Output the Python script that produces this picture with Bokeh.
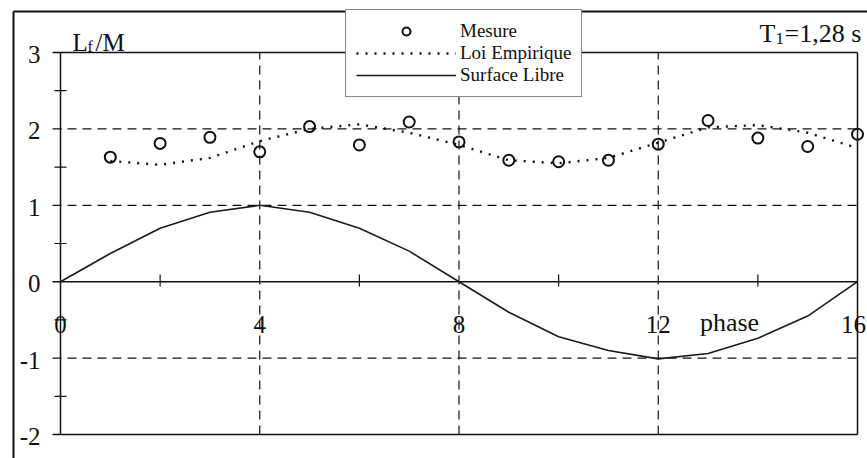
import numpy as np
from bokeh.plotting import figure
from bokeh.models import Range1d, Legend, LegendItem, Grid
from bokeh.core.properties import value
from bokeh.embed import file_html
from bokeh.resources import INLINE

# ---------------- data ----------------
phase = [0, 1, 2, 3, 4, 5, 6, 7, 8, 9, 10, 11, 12, 13, 14, 15, 16]
surface_libre = [0.0, 0.37, 0.70, 0.91, 1.0, 0.91, 0.70, 0.40, 0.0,
                 -0.40, -0.72, -0.90, -1.01, -0.94, -0.74, -0.45, 0.0]

mesure_phase = [1, 2, 3, 4, 5, 6, 7, 8, 9, 10, 11, 12, 13, 14, 15, 16]
mesure = [1.63, 1.81, 1.89, 1.70, 2.03, 1.79, 2.09, 1.83,
          1.59, 1.57, 1.59, 1.80, 2.11, 1.88, 1.77, 1.93]

loi_phase = [1, 2, 3, 4, 5, 6, 7, 8, 9, 10, 11, 12, 13, 14, 15, 16]
loi_empirique = [1.58, 1.53, 1.62, 1.84, 2.00, 2.06, 1.95, 1.79,
                 1.59, 1.55, 1.62, 1.82, 2.02, 2.05, 1.95, 1.75]

x_major = [0, 4, 8, 12, 16]
x_labels = ["0", "4", "8", "12", "16"]
x_minor = [2, 6, 10, 14]
y_major = [3, 2, 1, 0, -1, -2]
y_labels = ["3", "2", "1", "0", "-1", "-2"]
y_minor = [2.5, 1.5, 0.5, -0.5, -1.5]
y_solid = [3, 0, -2]
y_dashed = [2, 1, -1]
x_dashed = [4, 8, 12]
x_solid = [0, 16]

# ---------------- layout geometry (picture pixels) ----------------
W, H = 867, 458
PX0, PX16 = 60.0, 857.0      # pixel x of phase 0 and 16
PY3, PYm2 = 52.0, 434.0      # pixel y of 3 and -2
sx = (PX16 - PX0) / 16.0
sy = (PYm2 - PY3) / 5.0


def X(px):
    return (px - PX0) / sx


def Y(py):
    return 3.0 - (py - PY3) / sy


FL, FT = 2, 0                # frame left / top
x_lo, x_hi = X(FL), X(W)
y_hi, y_lo = Y(FT), Y(H)

FONT_NAME = "Liberation Serif"
FONT = value(FONT_NAME)
INK = "#111111"

p = figure(width=W, height=H, output_backend="svg", toolbar_location=None,
           x_range=Range1d(x_lo, x_hi), y_range=Range1d(y_lo, y_hi),
           x_axis_location=None, y_axis_location=None,
           min_border_left=FL, min_border_top=FT,
           min_border_right=0, min_border_bottom=0)
p.outline_line_color = None
p.background_fill_color = "white"
p.border_fill_color = "white"
for r in list(p.center):
    if isinstance(r, Grid):
        r.visible = False

# outer frame (left and top edges)
p.segment(x0=[X(13)], y0=[Y(11)], x1=[X(13)], y1=[y_lo], line_color=INK, line_width=2)
p.segment(x0=[X(13)], y0=[Y(11)], x1=[x_hi], y1=[Y(11)], line_color=INK, line_width=2)

# dashed grid
p.segment(x0=[X(52)] * len(y_dashed), y0=y_dashed, x1=[16] * len(y_dashed), y1=y_dashed,
          line_color=INK, line_width=1.2, line_dash="9 6")
p.segment(x0=x_dashed, y0=[-2] * len(x_dashed), x1=x_dashed, y1=[3] * len(x_dashed),
          line_color=INK, line_width=1.2, line_dash="9 6")

# solid box lines and zero line
p.segment(x0=[X(52)] * len(y_solid), y0=y_solid, x1=[16] * len(y_solid), y1=y_solid,
          line_color=INK, line_width=1.5)
p.segment(x0=x_solid, y0=[-2] * len(x_solid), x1=x_solid, y1=[3] * len(x_solid),
          line_color=INK, line_width=1.5)

# minor ticks
p.segment(x0=[X(54)] * len(y_minor), y0=y_minor, x1=[X(66)] * len(y_minor), y1=y_minor,
          line_color=INK, line_width=1.2)
p.segment(x0=x_minor, y0=[Y(274)] * len(x_minor), x1=x_minor, y1=[Y(286)] * len(x_minor),
          line_color=INK, line_width=1.2)

# series
r_surf = p.line(phase, surface_libre, line_color="#1a1a1a", line_width=1.6)
r_loi = p.line(loi_phase, loi_empirique, line_color=INK, line_width=2.4,
               line_dash="2 7")
r_mes = p.scatter(mesure_phase, mesure, marker="circle", size=11,
                  fill_color=None, line_color=INK, line_width=2)

# tick labels
p.text(x=[X(40)] * len(y_major), y=y_major, text=y_labels, text_font=FONT,
       text_font_size="25px", text_align="right", text_baseline="middle",
       text_color=INK, y_offset=2)
p.text(x=x_major, y=[Y(324)] * len(x_major), text=x_labels, text_font=FONT,
       text_font_size="25px", text_align="center", text_baseline="middle",
       text_color=INK, x_offset=[0, 0, 0, 0, -4])
p.text(x=[X(729)], y=[Y(322)], text=["phase"], text_font=FONT,
       text_font_size="26px", text_align="center", text_baseline="middle",
       text_color=INK)

# axis title  L_f / M
p.text(x=[X(72)], y=[Y(42)], text=["L"], text_font=FONT, text_font_size="25px",
       text_align="left", text_baseline="alphabetic", text_color=INK)
p.text(x=[X(87)], y=[Y(46)], text=["f"], text_font=FONT, text_font_size="16px",
       text_align="left", text_baseline="alphabetic", text_color=INK)
p.text(x=[X(95)], y=[Y(42)], text=["/M"], text_font=FONT, text_font_size="25px",
       text_align="left", text_baseline="alphabetic", text_color=INK)

# T_1 = 1,28 s
p.text(x=[X(759)], y=[Y(33)], text=["T"], text_font=FONT, text_font_size="26px",
       text_align="left", text_baseline="alphabetic", text_color=INK)
p.text(x=[X(775)], y=[Y(38)], text=["1"], text_font=FONT, text_font_size="17px",
       text_align="left", text_baseline="alphabetic", text_color=INK)
p.text(x=[X(784)], y=[Y(33)], text=["=1,28 s"], text_font=FONT, text_font_size="26px",
       text_align="left", text_baseline="alphabetic", text_color=INK)

# legend
legend = Legend(items=[LegendItem(label="Mesure", renderers=[r_mes]),
                       LegendItem(label="Loi Empirique", renderers=[r_loi]),
                       LegendItem(label="Surface Libre", renderers=[r_surf])],
                location=(345 - FL, H - 97),
                glyph_width=100, glyph_height=20, label_height=20,
                label_standoff=4, spacing=0, padding=10, margin=0,
                label_text_font=FONT_NAME, label_text_font_size="19px",
                label_text_color=INK,
                border_line_color=INK, border_line_width=1.5,
                background_fill_color="white", background_fill_alpha=1.0)
p.add_layout(legend, "center")

open("out.html", "w").write(file_html(p, INLINE))
